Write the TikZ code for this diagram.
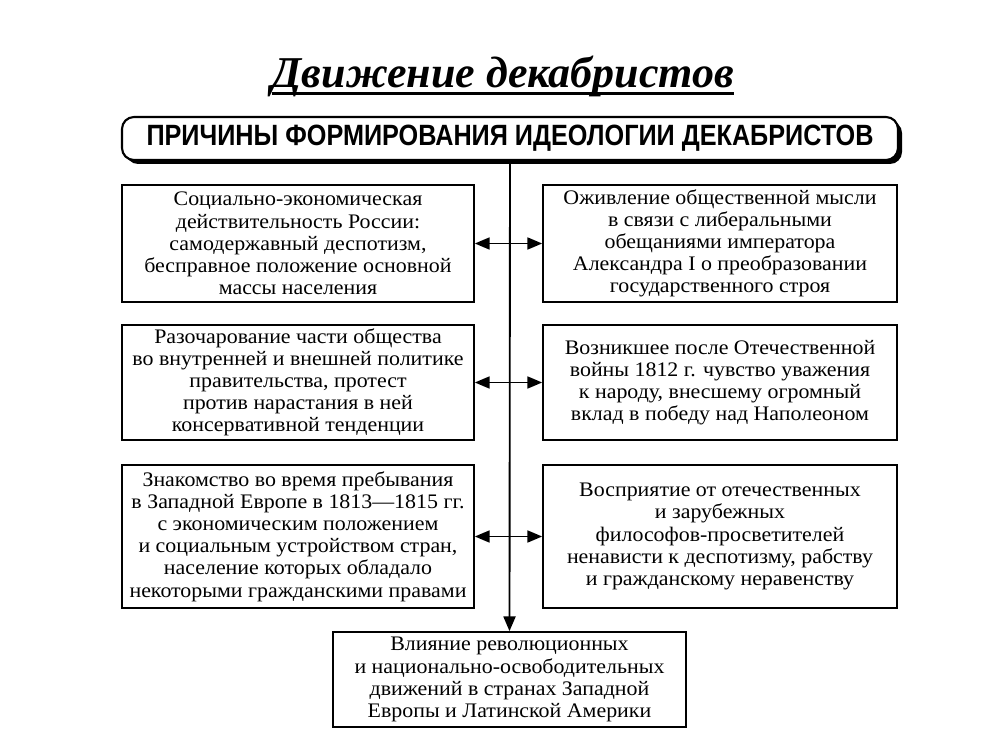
\documentclass[tikz,border=0pt]{standalone}
\usepackage{fontspec}
\setmainfont{Liberation Serif}
\newfontfamily\headfont[FakeStretch=0.86]{Liberation Sans}
\newfontfamily\bodyfont[FakeStretch=1.06]{Liberation Serif}
\usetikzlibrary{arrows.meta,shadows}
\tikzset{
  cause/.style={draw=black,line width=1.3pt,fill=white,align=center,inner xsep=0pt,inner ysep=2pt,
                font=\bodyfont\fontsize{15.5}{16.6}\selectfont,text=black},
  lcol/.style={cause,minimum width=264pt},
  rcol/.style={cause,minimum width=265.5pt},
  headbox/.style={draw=black,line width=1.6pt,fill=white,rounded corners=9pt,
                  minimum width=582pt,minimum height=32.25pt,inner sep=0pt,
                  drop shadow={shadow xshift=3pt,shadow yshift=-3pt,opacity=1,fill=black},
                  font=\headfont\bfseries\fontsize{22}{24}\selectfont},
  biarr/.style={{Triangle[length=11pt,width=9pt]}-{Triangle[length=11pt,width=9pt]},line width=1.2pt},
  downarr/.style={-{Triangle[length=11pt,width=9pt]},line width=1.4pt},
}

\begin{document}
\begin{tikzpicture}[x=0.75pt,y=-0.75pt]
  \useasboundingbox (0,0) rectangle (1008,756);
  \node[font=\bfseries\itshape\fontsize{33}{37}\selectfont,anchor=base,inner sep=0pt] (ttl) at (503,88) {Движение декабристов};
  \draw[line width=2.2pt] ([yshift=-4pt]ttl.base west) -- ([yshift=-4pt]ttl.base east);

  \node[headbox] (head) at (510,138.5) {ПРИЧИНЫ ФОРМИРОВАНИЯ ИДЕОЛОГИИ ДЕКАБРИСТОВ};

  % first row
  \node[lcol,minimum height=87.75pt] (l1) at (298,243.5)
    {Социально-экономическая\\ действительность России:\\ самодержавный деспотизм,\\ бесправное положение основной\\ массы населения};
  \node[rcol,minimum height=87.75pt] (r1) at (720,243.5)
    {Оживление общественной мысли\\ в связи с либеральными\\ обещаниями императора\\ Александра I о преобразовании\\ государственного строя};
  % second row
  \node[lcol,minimum height=86.25pt] (l2) at (298,382.5)
    {Разочарование части общества\\ во внутренней и внешней политике\\ правительства, протест\\ против нарастания в ней\\ консервативной тенденции};
  \node[rcol,minimum height=86.25pt] (r2) at (720,382.5)
    {Возникшее после Отечественной\\ войны 1812 г. чувство уважения\\ к народу, внесшему огромный\\ вклад в победу над Наполеоном};
  % third row
  \node[lcol,minimum height=107.25pt] (l3) at (298,536.5)
    {Знакомство во время пребывания\\ в Западной Европе в 1813—1815 гг.\\ с экономическим положением\\ и социальным устройством стран,\\ население которых обладало\\ некоторыми гражданскими правами};
  \node[rcol,minimum height=107.25pt] (r3) at (720,536.5)
    {Восприятие от отечественных\\ и зарубежных\\ философов-просветителей\\ ненависти к деспотизму, рабству\\ и гражданскому неравенству};

  \node[cause,minimum width=264.75pt,minimum height=71.25pt] (bot) at (509.5,679.5)
    {Влияние революционных\\ и национально-освободительных\\ движений в странах Западной\\ Европы и Латинской Америки};

  \draw[downarr] (head.south) -- (bot.north);
  \draw[biarr] (l1.east) -- (r1.west);
  \draw[biarr] (l2.east) -- (r2.west);
  \draw[biarr] (l3.east) -- (r3.west);
\end{tikzpicture}
\end{document}
